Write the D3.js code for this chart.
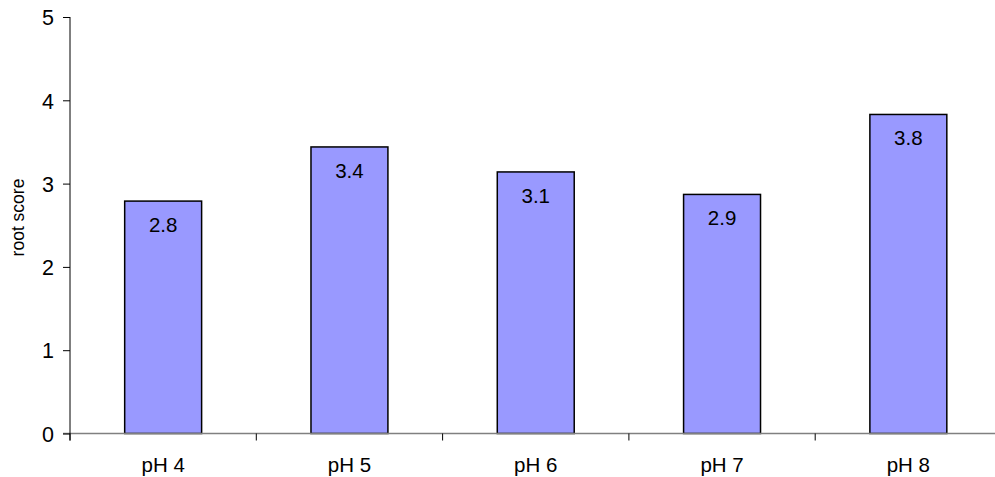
<!DOCTYPE html>
<html>
<head>
<meta charset="utf-8">
<script src="https://cdn.jsdelivr.net/npm/d3@7/dist/d3.min.js"></script>
<style>
  html, body { margin: 0; padding: 0; background: #fff; }
  svg { display: block; font-family: "Liberation Sans", Arial, sans-serif; }
</style>
</head>
<body>
<svg id="chart" width="995" height="477"></svg>
<script>
// Root score by pH
const categories = ["pH 4", "pH 5", "pH 6", "pH 7", "pH 8"];
const rootScores = [2.79, 3.44, 3.14, 2.87, 3.83];
const yTicks = [0, 1, 2, 3, 4, 5];
const yTitle = "root score";

const svg = d3.select("#chart");
const margin = { left: 70, top: 17, bottom: 43.5 };
const plotRight = 1001.5;
const plotBottom = 477 - margin.bottom;

const x = d3.scaleBand()
  .domain(categories)
  .range([margin.left, plotRight])
  .paddingInner(0.587)
  .paddingOuter(0.2935);

const y = d3.scaleLinear()
  .domain([0, 5])
  .range([plotBottom, margin.top]);

// Bars
svg.append("g")
  .selectAll("rect")
  .data(categories)
  .join("rect")
  .attr("x", d => x(d))
  .attr("y", (d, i) => y(rootScores[i]))
  .attr("width", x.bandwidth())
  .attr("height", (d, i) => y(0) - y(rootScores[i]))
  .attr("fill", "#9999ff")
  .attr("stroke", "#000")
  .attr("stroke-width", 1.5);

// Value labels inside the top of each bar
svg.append("g")
  .selectAll("text")
  .data(categories)
  .join("text")
  .attr("x", d => x(d) + x.bandwidth() / 2)
  .attr("y", (d, i) => y(rootScores[i]) + 31)
  .attr("text-anchor", "middle")
  .attr("font-size", 20.5)
  .attr("fill", "#000")
  .text((d, i) => d3.format(".1f")(rootScores[i]));

// X axis: gray baseline with ticks between categories
const xAxisG = svg.append("g");
xAxisG.append("line")
  .attr("x1", margin.left - 7).attr("x2", 995)
  .attr("y1", y(0)).attr("y2", y(0))
  .attr("stroke", "#808080").attr("stroke-width", 1.5);
const step = x.step();
const boundaries = d3.range(categories.length + 1).map(i => margin.left + i * step);
xAxisG.selectAll("line.tick")
  .data(boundaries)
  .join("line")
  .attr("class", "tick")
  .attr("x1", d => d).attr("x2", d => d)
  .attr("y1", y(0)).attr("y2", y(0) + 7)
  .attr("stroke", "#000").attr("stroke-width", 1);
xAxisG.selectAll("text")
  .data(categories)
  .join("text")
  .attr("x", d => x(d) + x.bandwidth() / 2)
  .attr("y", 472)
  .attr("text-anchor", "middle")
  .attr("font-size", 20.5)
  .attr("fill", "#000")
  .text(d => d);

// Y axis
const yAxis = d3.axisLeft(y)
  .tickValues(yTicks)
  .tickSize(7)
  .tickSizeOuter(0)
  .tickPadding(9)
  .tickFormat(d3.format("d"));
const yAxisG = svg.append("g")
  .attr("transform", `translate(${margin.left},0)`)
  .call(yAxis);
yAxisG.select(".domain").remove();
yAxisG.append("line")
  .attr("x1", 0).attr("x2", 0)
  .attr("y1", margin.top).attr("y2", y(0) + 7)
  .attr("stroke", "#000").attr("stroke-width", 1);
yAxisG.selectAll(".tick line").attr("stroke", "#000");
yAxisG.selectAll(".tick text")
  .attr("font-size", 21.5)
  .attr("dy", "0.36em")
  .attr("font-family", "Liberation Sans, Arial, sans-serif")
  .attr("fill", "#000");

// Y axis title
svg.append("text")
  .attr("transform", `translate(24, 217.5) rotate(-90)`)
  .attr("text-anchor", "middle")
  .attr("font-size", 17.5)
  .attr("fill", "#000")
  .text(yTitle);
</script>
</body>
</html>
